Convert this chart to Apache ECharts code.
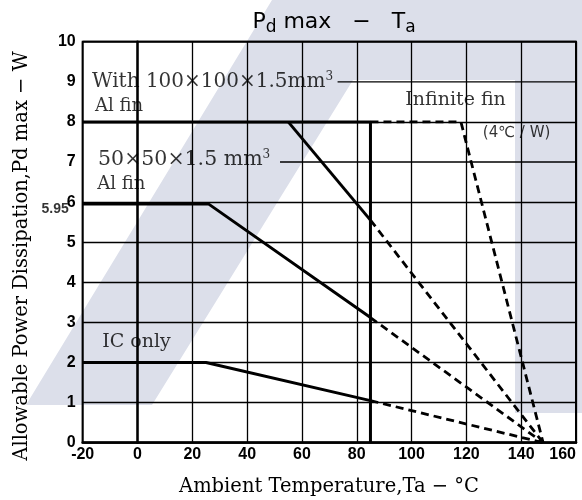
<!DOCTYPE html>
<html><head><meta charset="utf-8">
<script src="https://cdn.jsdelivr.net/npm/echarts@6/dist/echarts.min.js"></script>
<style>html,body{margin:0;padding:0;background:#fff}#c{width:582px;height:500px}</style>
</head><body><div id="c"></div>
<script>
// ---- data ----
const xMin = -20, xMax = 160, xStep = 20;
const yMin = 0, yMax = 10, yStep = 1;
const boundarySolid = [[-20, 8], [85, 8], [85, 0]];
const fin100Solid = [[55, 8], [85, 5.55]];
const fin100Dashed = [[85, 5.55], [148, 0]];
const fin50Solid = [[-20, 5.95], [26, 5.95], [85, 3.12]];
const fin50Dashed = [[85, 3.12], [148, 0]];
const icSolid = [[-20, 2], [25, 2], [85, 1.05]];
const icDashed = [[85, 1.05], [148, 0]];
const infiniteDashed = [[85, 8], [118, 8], [148, 0]];
const grid9Segment = [[73, 9], [160, 9]];
const grid7Segment = [[52, 7], [160, 7]];
const serifNotes = ['With 100×100×1.5mm{sup|3}', 'Al fin', '50×50×1.5 mm{sup|3}', 'Al fin', 'IC only', 'Infinite fin'];
const serifNotePos = [[-16.6, 9.0], [-15.5, 8.39], [-14.4, 7.05], [-14.7, 6.45], [-12.9, 2.51], [97.7, 8.54]];
const serifNoteSize = [20, 18, 20.5, 18, 19, 19];
const sansNotes = ['(4℃ / W)'];
const sansNotePos = [[126, 7.72]];
const extraYTick = [[-20, 5.95]];
const extraYTickText = '5.95';
const titleText = '{m|P}{s|d}{m| max   −   T}{s|a}';
const xTitle = 'Ambient Temperature,Ta − °C';
const yTitle = 'Allowable Power Dissipation,Pd max − W';

// ---- chart ----
const chart = echarts.init(document.getElementById('c'));
const black = '#000';
const solid = (d) => ({ type: 'line', data: d, symbol: 'none', silent: true, animation: false,
  lineStyle: { color: black, width: 3, type: 'solid', cap: 'butt' }, z: 3 });
const dashed = (d) => ({ type: 'line', data: d, symbol: 'none', silent: true, animation: false,
  lineStyle: { color: black, width: 2.8, type: [8, 5] }, z: 3 });
const gridSeg = (d) => ({ type: 'line', data: d, symbol: 'none', silent: true, animation: false,
  lineStyle: { color: black, width: 1.3 }, z: 1 });
const ySplitColors = [];
for (let v = yMin; v <= yMax; v += yStep) ySplitColors.push((v === 7 || v === 9) ? 'rgba(0,0,0,0)' : black);

const option = {
  animation: false,
  grid: { left: 82.7, right: 6, top: 41.7, bottom: 57.3, containLabel: false, outerBoundsMode: 'none',
    show: true, borderColor: black, borderWidth: 2, backgroundColor: 'transparent' },
  xAxis: {
    type: 'value', min: xMin, max: xMax, interval: xStep,
    axisLine: { show: true, lineStyle: { color: black, width: 2.5 } },
    axisTick: { show: false },
    splitLine: { show: true, lineStyle: { color: black, width: 1.3 } },
    axisLabel: { color: black, fontFamily: 'Liberation Sans', fontWeight: 'bold', fontSize: 16, margin: 4,
      alignMaxLabel: 'right' }
  },
  yAxis: {
    type: 'value', min: yMin, max: yMax, interval: yStep,
    axisLine: { show: true, lineStyle: { color: black, width: 2.5 } },
    axisTick: { show: false },
    splitLine: { show: true, lineStyle: { color: ySplitColors, width: 1.3 } },
    axisLabel: { color: black, fontFamily: 'Liberation Sans', fontWeight: 'bold', fontSize: 16, margin: 7 }
  },
  graphic: [
    { type: 'polygon', z: -1, silent: true,
      shape: { points: [[26, 405], [152, 405], [353, 80], [515, 80], [515, 413], [582, 413], [582, 0], [272, 0]] },
      style: { fill: '#dcdfea' } },
    { type: 'text', z: 10, x: 334, y: 22, silent: true,
      style: { text: titleText, align: 'center', verticalAlign: 'middle',
        rich: { m: { fontSize: 22, fontFamily: 'DejaVu Sans', fill: black, lineHeight: 28, verticalAlign: 'middle' },
                s: { fontSize: 17, fontFamily: 'DejaVu Sans', fill: black, lineHeight: 14, verticalAlign: 'bottom' } } } },
    { type: 'text', z: 10, x: 329, y: 487, silent: true,
      style: { text: xTitle, align: 'center', verticalAlign: 'middle', fontSize: 19.5, fontFamily: 'DejaVu Serif', fill: black } },
    { type: 'text', z: 10, x: 22, y: 256, rotation: Math.PI / 2, silent: true,
      style: { text: yTitle, align: 'center', verticalAlign: 'middle', fontSize: 19.5, fontFamily: 'DejaVu Serif', fill: black } }
  ],
  series: [
    gridSeg(grid9Segment), gridSeg(grid7Segment),
    solid(boundarySolid), solid(fin100Solid), dashed(fin100Dashed),
    solid(fin50Solid), dashed(fin50Dashed),
    solid(icSolid), dashed(icDashed), dashed(infiniteDashed),
    { type: 'scatter', symbolSize: 0, silent: true, z: 5,
      data: serifNotePos.map((p, i) => ({ value: p, name: serifNotes[i],
        label: { fontSize: serifNoteSize[i] } })),
      label: { show: true, position: 'right', distance: 0, formatter: (p) => p.name,
        color: black, fontFamily: 'DejaVu Serif', fontSize: 18, lineHeight: 22,
        rich: { sup: { fontSize: 12, fontFamily: 'DejaVu Serif', color: black, lineHeight: 10, verticalAlign: 'top' } } } },
    { type: 'scatter', symbolSize: 0, silent: true, z: 5,
      data: sansNotePos.map((p, i) => ({ value: p, name: sansNotes[i] })),
      label: { show: true, position: 'right', distance: 0, formatter: (p) => p.name,
        color: black, fontFamily: 'DejaVu Sans', fontSize: 15 } },
    { type: 'scatter', symbolSize: 0, silent: true, z: 5,
      data: extraYTick,
      label: { show: true, position: 'left', distance: 14, offset: [0, 5], formatter: () => extraYTickText,
        color: black, fontFamily: 'Liberation Sans', fontWeight: 'bold', fontSize: 14 } }
  ]
};
chart.setOption(option);
</script>
</body></html>
